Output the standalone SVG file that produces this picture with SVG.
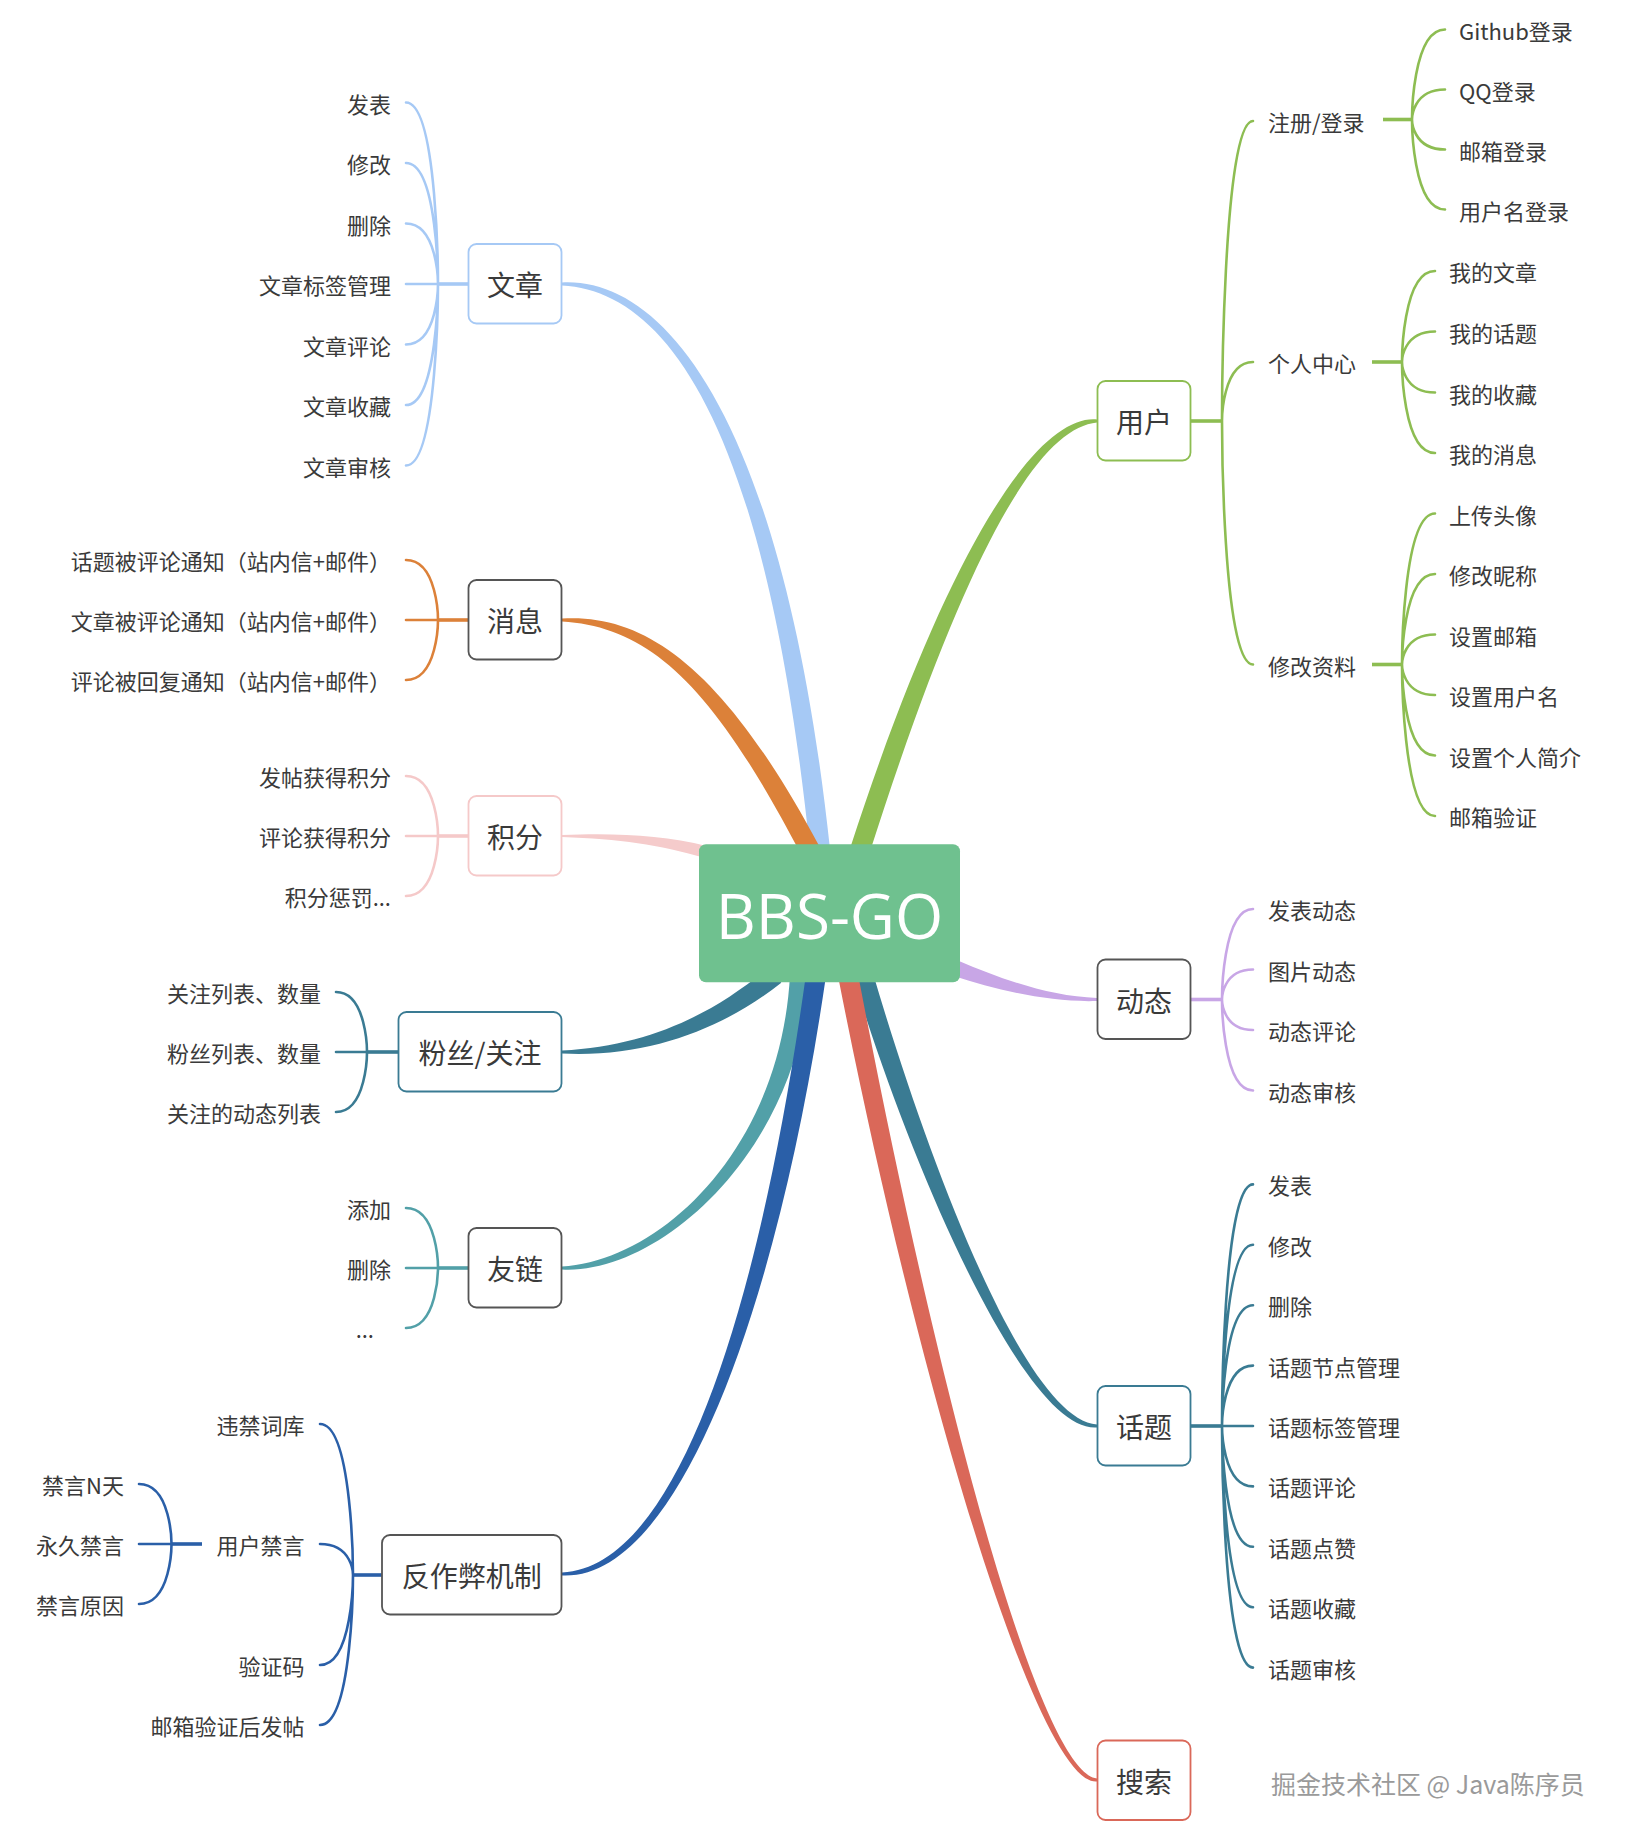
<svg xmlns="http://www.w3.org/2000/svg" width="1632" height="1841" viewBox="0 0 1632 1841">
<style>
.t{font-family:"Noto Sans CJK SC","Liberation Sans",sans-serif;font-size:22px;fill:#3a3a3a;dominant-baseline:central}
.e{text-anchor:end}
.m{font-size:28px;text-anchor:middle}
.box{fill:#fff;stroke-width:1.8}
.c{fill:none;stroke-width:2.6;stroke-linecap:round}
.s{fill:none;stroke-width:3.6}
.blue{stroke:#A6C9F5}.orange{stroke:#DC8139}.pink{stroke:#F5C9C9}.teal{stroke:#3A7B93}.lteal{stroke:#52A0A8}.navy{stroke:#2A5FA8}.green{stroke:#8DBD52}.lav{stroke:#C8A6E6}.red{stroke:#DA6859}.gray{stroke:#555}
</style>
<rect width="1632" height="1841" fill="#fff"/>
<g id="connectors">
  <!-- main branches -->
  <path fill="#A6C9F5" d="M562,282.5 C665,277 784,419.1 830,849 L810,851 C766,420.9 665,291 562,285.5 Z"/>
  <path fill="#DC8139" d="M562,618.5 C650,613 728,675.8 818.8,845.3 L801.2,854.7 C712,684.2 650,627 562,621.5 Z"/>
  <path fill="#F5CBCB" d="M562,835 C620,833 661.3,835.2 707.5,846.2 L704.5,857.8 C658.7,844.8 620,839 562,837 Z"/>
  <path fill="#3A7B93" d="M562,1050.5 C650,1046 714.3,1013 768.7,967.3 L781.3,982.7 C725.7,1027 650,1058 562,1053.5 Z"/>
  <path fill="#52A0A8" d="M562,1266.5 C660,1261 781,1149.5 790,974.4 L810,975.6 C799,1150.5 660,1275 562,1269.5 Z"/>
  <path fill="#2A5FA8" d="M562,1572.5 C680,1567 761.1,1298.7 806.1,973.6 L825.9,976.4 C778.9,1301.3 680,1581 562,1575.5 Z"/>
  <path fill="#8DBD52" d="M1097,422.5 C1040,428 968.6,542.8 869.5,853.1 L850.5,846.9 C951.4,537.2 1040,414 1097,419.5 Z"/>
  <path fill="#C8A6E6" d="M1097,1001 C1050,1002.5 997.9,990.6 952.2,975.5 L957.8,960.5 C1002.1,979.4 1050,996.5 1097,998 Z"/>
  <path fill="#3A7B93" d="M1097,1427.5 C1025,1433 911.4,1167.6 853.4,977.9 L872.6,972.1 C928.6,1162.4 1025,1419 1097,1424.5 Z"/>
  <path fill="#DA6859" d="M1097,1781.5 C1040,1787 921.2,1401.7 838.2,976.9 L857.8,973.1 C938.8,1398.3 1040,1773 1097,1778.5 Z"/>

  <!-- 文章 -->
  <g class="blue">
    <path class="s" d="M438,284 L469,284"/>
    <path class="c" d="M406,102.5 C438,102.5 438,284 438,284 M406,163 C438,163 438,284 438,284 M406,223.5 C438,223.5 438,284 438,284 M406,284 L438,284 M406,344.5 C438,344.5 438,284 438,284 M406,405 C438,405 438,284 438,284 M406,465.5 C438,465.5 438,284 438,284"/>
  </g>
  <!-- 消息 -->
  <g class="orange">
    <path class="s" d="M438,620 L469,620"/>
    <path class="c" d="M406,560 C438,560 438,620 438,620 M406,620 L438,620 M406,680 C438,680 438,620 438,620"/>
  </g>
  <!-- 积分 -->
  <g class="pink">
    <path class="s" d="M438,836 L469,836"/>
    <path class="c" d="M406,776 C438,776 438,836 438,836 M406,836 L438,836 M406,896 C438,896 438,836 438,836"/>
  </g>
  <!-- 粉丝/关注 -->
  <g class="teal">
    <path class="s" d="M367,1052 L399,1052"/>
    <path class="c" d="M336,992 C367,992 367,1052 367,1052 M336,1052 L367,1052 M336,1112 C367,1112 367,1052 367,1052"/>
  </g>
  <!-- 友链 -->
  <g class="lteal">
    <path class="s" d="M438,1268 L469,1268"/>
    <path class="c" d="M406,1208 C438,1208 438,1268 438,1268 M406,1268 L438,1268 M406,1328 C438,1328 438,1268 438,1268"/>
  </g>
  <!-- 反作弊机制 -->
  <g class="navy">
    <path class="s" d="M353,1575 L382,1575"/>
    <path class="c" d="M320,1424 C353,1424 353,1575 353,1575 M320,1544 C353,1544 353,1575 353,1575 M320,1665 C353,1665 353,1575 353,1575 M320,1725 C353,1725 353,1575 353,1575"/>
    <path class="s" d="M171.5,1544 L202,1544"/>
    <path class="c" d="M139,1484 C171.5,1484 171.5,1544 171.5,1544 M139,1544 L171.5,1544 M139,1604 C171.5,1604 171.5,1544 171.5,1544"/>
  </g>
  <!-- 用户 -->
  <g class="green">
    <path class="s" d="M1191,421 L1222,421"/>
    <path class="c" d="M1253,121 C1222,121 1222,421 1222,421 M1253,362 C1222,362 1222,421 1222,421 M1253,664.5 C1222,664.5 1222,421 1222,421"/>
    <path class="s" d="M1383,119.5 L1412,119.5"/>
    <path class="c" d="M1445,29.5 C1412,29.5 1412,119.5 1412,119.5 M1445,89.5 C1412,89.5 1412,119.5 1412,119.5 M1445,149.5 C1412,149.5 1412,119.5 1412,119.5 M1445,209.5 C1412,209.5 1412,119.5 1412,119.5"/>
    <path class="s" d="M1372,362 L1402,362"/>
    <path class="c" d="M1435,271 C1402,271 1402,362 1402,362 M1435,331.5 C1402,331.5 1402,362 1402,362 M1435,392.5 C1402,392.5 1402,362 1402,362 M1435,453 C1402,453 1402,362 1402,362"/>
    <path class="s" d="M1372,664.5 L1402,664.5"/>
    <path class="c" d="M1435,513.5 C1402,513.5 1402,664.5 1402,664.5 M1435,574 C1402,574 1402,664.5 1402,664.5 M1435,634.5 C1402,634.5 1402,664.5 1402,664.5 M1435,695 C1402,695 1402,664.5 1402,664.5 M1435,755.5 C1402,755.5 1402,664.5 1402,664.5 M1435,816 C1402,816 1402,664.5 1402,664.5"/>
  </g>
  <!-- 动态 -->
  <g class="lav">
    <path class="s" d="M1191,999.5 L1222,999.5"/>
    <path class="c" d="M1253,909 C1222,909 1222,999.5 1222,999.5 M1253,969.5 C1222,969.5 1222,999.5 1222,999.5 M1253,1030 C1222,1030 1222,999.5 1222,999.5 M1253,1090.5 C1222,1090.5 1222,999.5 1222,999.5"/>
  </g>
  <!-- 话题 -->
  <g class="teal">
    <path class="s" d="M1191,1426 L1222,1426"/>
    <path class="c" d="M1253,1184.4 C1222,1184.4 1222,1426 1222,1426 M1253,1244.8 C1222,1244.8 1222,1426 1222,1426 M1253,1305.2 C1222,1305.2 1222,1426 1222,1426 M1253,1365.6 C1222,1365.6 1222,1426 1222,1426 M1253,1426 L1222,1426 M1253,1486.4 C1222,1486.4 1222,1426 1222,1426 M1253,1546.8 C1222,1546.8 1222,1426 1222,1426 M1253,1607.2 C1222,1607.2 1222,1426 1222,1426 M1253,1667.6 C1222,1667.6 1222,1426 1222,1426"/>
  </g>
</g>

<g id="root">
  <rect x="699" y="844.3" width="261" height="138" rx="7" fill="#6FC18F"/>
  <text x="829.5" y="939" text-anchor="middle" font-family="'Open Sans','Noto Sans',sans-serif" font-size="62" fill="#fff">BBS-GO</text>
</g>

<g id="n-wenzhang"><rect class="box blue" x="468.5" y="244" width="93" height="79.5" rx="8"/><text class="t m" x="515" y="284">文章</text></g>
<g id="n-xiaoxi"><rect class="box gray" x="468.5" y="580" width="93" height="79.5" rx="8"/><text class="t m" x="515" y="620">消息</text></g>
<g id="n-jifen"><rect class="box pink" x="468.5" y="796" width="93" height="79.5" rx="8"/><text class="t m" x="515" y="836">积分</text></g>
<g id="n-fensi"><rect class="box teal" x="398.5" y="1012" width="163" height="79.5" rx="8"/><text class="t m" x="480" y="1052">粉丝/关注</text></g>
<g id="n-youlian"><rect class="box gray" x="468.5" y="1228" width="93" height="79.5" rx="8"/><text class="t m" x="515" y="1268">友链</text></g>
<g id="n-fanzuobi"><rect class="box gray" x="382" y="1535" width="179.5" height="79.5" rx="8"/><text class="t m" x="471.7" y="1575">反作弊机制</text></g>
<g id="n-yonghu"><rect class="box green" x="1097.5" y="381" width="93" height="79.5" rx="8"/><text class="t m" x="1144" y="421">用户</text></g>
<g id="n-dongtai"><rect class="box gray" x="1097.5" y="959.5" width="93" height="79.5" rx="8"/><text class="t m" x="1144" y="999.5">动态</text></g>
<g id="n-huati"><rect class="box teal" x="1097.5" y="1386" width="93" height="79.5" rx="8"/><text class="t m" x="1144" y="1426">话题</text></g>
<g id="n-sousuo"><rect class="box red" x="1097.5" y="1740.5" width="93" height="79.5" rx="8"/><text class="t m" x="1144" y="1780.5">搜索</text></g>

<!-- 文章 children -->
<g id="wz-1"><text class="t e" x="391" y="102.5">发表</text></g>
<g id="wz-2"><text class="t e" x="391" y="163">修改</text></g>
<g id="wz-3"><text class="t e" x="391" y="223.5">删除</text></g>
<g id="wz-4"><text class="t e" x="391" y="284">文章标签管理</text></g>
<g id="wz-5"><text class="t e" x="391" y="344.5">文章评论</text></g>
<g id="wz-6"><text class="t e" x="391" y="405">文章收藏</text></g>
<g id="wz-7"><text class="t e" x="391" y="465.5">文章审核</text></g>
<!-- 消息 children -->
<g id="xx-1"><text class="t e" x="391" y="560">话题被评论通知（站内信+邮件）</text></g>
<g id="xx-2"><text class="t e" x="391" y="620">文章被评论通知（站内信+邮件）</text></g>
<g id="xx-3"><text class="t e" x="391" y="680">评论被回复通知（站内信+邮件）</text></g>
<!-- 积分 children -->
<g id="jf-1"><text class="t e" x="391" y="776">发帖获得积分</text></g>
<g id="jf-2"><text class="t e" x="391" y="836">评论获得积分</text></g>
<g id="jf-3"><text class="t e" x="391" y="896">积分惩罚...</text></g>
<!-- 粉丝 children -->
<g id="fs-1"><text class="t e" x="321" y="992">关注列表、数量</text></g>
<g id="fs-2"><text class="t e" x="321" y="1052">粉丝列表、数量</text></g>
<g id="fs-3"><text class="t e" x="321" y="1112">关注的动态列表</text></g>
<!-- 友链 children -->
<g id="yl-1"><text class="t e" x="391" y="1208">添加</text></g>
<g id="yl-2"><text class="t e" x="391" y="1268">删除</text></g>
<g id="yl-3"><text class="t e" x="374" y="1328">...</text></g>
<!-- 反作弊 children -->
<g id="fz-1"><text class="t e" x="304.5" y="1424">违禁词库</text></g>
<g id="fz-2"><text class="t e" x="304.5" y="1544">用户禁言</text></g>
<g id="fz-3"><text class="t e" x="304.5" y="1665">验证码</text></g>
<g id="fz-4"><text class="t e" x="304.5" y="1725">邮箱验证后发帖</text></g>
<g id="jy-1"><text class="t e" x="124" y="1484">禁言N天</text></g>
<g id="jy-2"><text class="t e" x="124" y="1544">永久禁言</text></g>
<g id="jy-3"><text class="t e" x="124" y="1604">禁言原因</text></g>
<!-- 用户 children -->
<g id="yh-1"><text class="t" x="1268" y="121">注册/登录</text></g>
<g id="yh-2"><text class="t" x="1268" y="362">个人中心</text></g>
<g id="yh-3"><text class="t" x="1268" y="664.5">修改资料</text></g>
<g id="dl-1"><text class="t" x="1459" y="29.5">Github登录</text></g>
<g id="dl-2"><text class="t" x="1459" y="89.5">QQ登录</text></g>
<g id="dl-3"><text class="t" x="1459" y="149.5">邮箱登录</text></g>
<g id="dl-4"><text class="t" x="1459" y="209.5">用户名登录</text></g>
<g id="gr-1"><text class="t" x="1449" y="271">我的文章</text></g>
<g id="gr-2"><text class="t" x="1449" y="331.5">我的话题</text></g>
<g id="gr-3"><text class="t" x="1449" y="392.5">我的收藏</text></g>
<g id="gr-4"><text class="t" x="1449" y="453">我的消息</text></g>
<g id="zl-1"><text class="t" x="1449" y="513.5">上传头像</text></g>
<g id="zl-2"><text class="t" x="1449" y="574">修改昵称</text></g>
<g id="zl-3"><text class="t" x="1449" y="634.5">设置邮箱</text></g>
<g id="zl-4"><text class="t" x="1449" y="695">设置用户名</text></g>
<g id="zl-5"><text class="t" x="1449" y="755.5">设置个人简介</text></g>
<g id="zl-6"><text class="t" x="1449" y="816">邮箱验证</text></g>
<!-- 动态 children -->
<g id="dt-1"><text class="t" x="1268" y="909">发表动态</text></g>
<g id="dt-2"><text class="t" x="1268" y="969.5">图片动态</text></g>
<g id="dt-3"><text class="t" x="1268" y="1030">动态评论</text></g>
<g id="dt-4"><text class="t" x="1268" y="1090.5">动态审核</text></g>
<!-- 话题 children -->
<g id="ht-1"><text class="t" x="1268" y="1184.4">发表</text></g>
<g id="ht-2"><text class="t" x="1268" y="1244.8">修改</text></g>
<g id="ht-3"><text class="t" x="1268" y="1305.2">删除</text></g>
<g id="ht-4"><text class="t" x="1268" y="1365.6">话题节点管理</text></g>
<g id="ht-5"><text class="t" x="1268" y="1426">话题标签管理</text></g>
<g id="ht-6"><text class="t" x="1268" y="1486.4">话题评论</text></g>
<g id="ht-7"><text class="t" x="1268" y="1546.8">话题点赞</text></g>
<g id="ht-8"><text class="t" x="1268" y="1607.2">话题收藏</text></g>
<g id="ht-9"><text class="t" x="1268" y="1667.6">话题审核</text></g>

<text x="1271" y="1783" font-family="'Noto Sans CJK SC','Liberation Sans',sans-serif" font-size="25" fill="#9a9a9a" dominant-baseline="central">掘金技术社区 @ Java陈序员</text>
</svg>
